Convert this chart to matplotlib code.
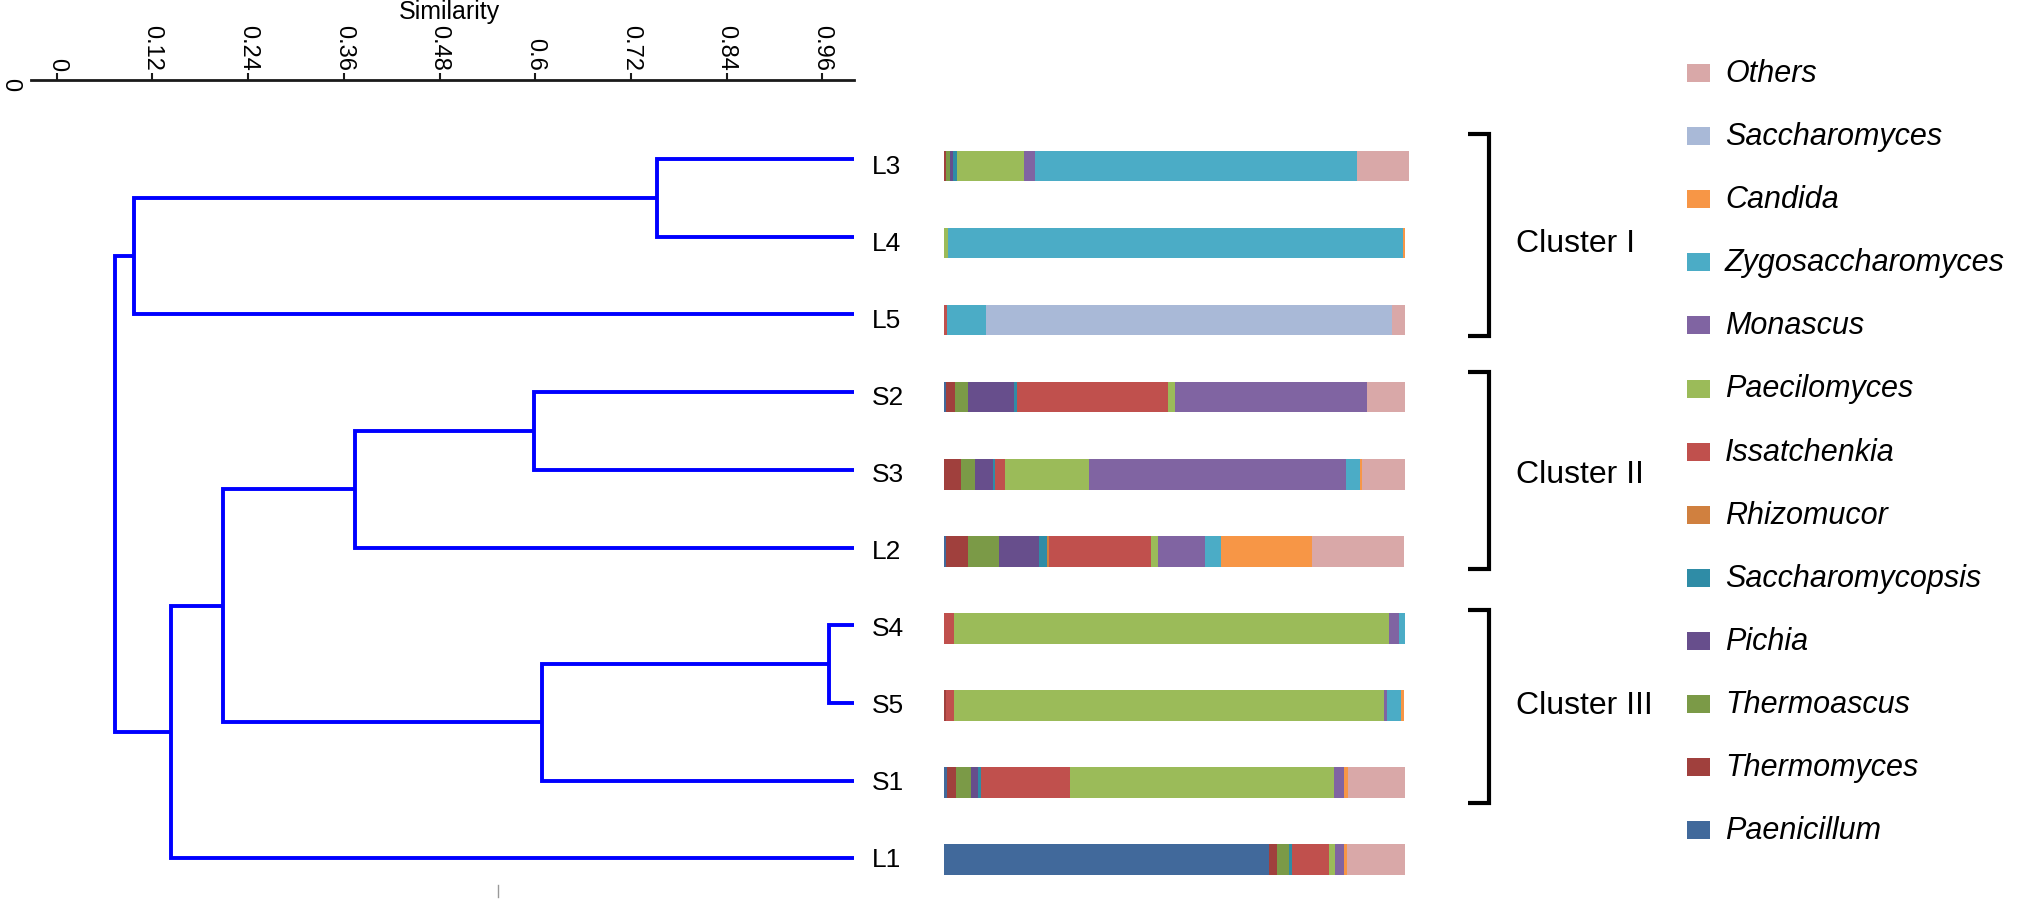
import matplotlib
matplotlib.use('Agg')
import matplotlib.pyplot as plt
from matplotlib.patches import Rectangle
from matplotlib.lines import Line2D
import numpy as np

plt.rcParams['font.family'] = ['Liberation Sans', 'DejaVu Sans']

# ---------------- data ----------------
samples = ['L3', 'L4', 'L5', 'S2', 'S3', 'L2', 'S4', 'S5', 'S1', 'L1']

genera = ['Paenicillum', 'Thermomyces', 'Thermoascus', 'Pichia', 'Saccharomycopsis',
          'Rhizomucor', 'Issatchenkia', 'Paecilomyces', 'Monascus',
          'Zygosaccharomyces', 'Candida', 'Saccharomyces', 'Others']

genus_colors = ['#41699B', '#A0403D', '#7B9A47', '#674E8C', '#2F8CA6',
                '#D0803F', '#C0504D', '#9BBB59', '#8064A2',
                '#4BACC6', '#F79646', '#A9B9D7', '#D9A8A8']

# relative abundance (%) per sample, order = samples
Paenicillum       = [0.0, 0.0, 0.0, 0.35, 0.0, 0.5, 0.0, 0.0, 0.65, 70.5]
Thermomyces       = [0.45, 0.0, 0.0, 2.0, 3.6, 4.6, 0.0, 0.35, 2.0, 1.8]
Thermoascus       = [0.8, 0.0, 0.0, 2.75, 3.2, 6.9, 0.0, 0.0, 3.1, 2.6]
Pichia            = [0.7, 0.0, 0.0, 10.0, 3.8, 8.5, 0.0, 0.0, 1.6, 0.0]
Saccharomycopsis  = [0.95, 0.0, 0.0, 0.7, 0.4, 1.8, 0.0, 0.0, 0.7, 0.65]
Rhizomucor        = [0.0, 0.0, 0.0, 0.0, 0.0, 0.5, 0.0, 0.0, 0.0, 0.0]
Issatchenkia      = [0.0, 0.0, 0.65, 32.8, 2.2, 22.0, 2.2, 1.9, 19.2, 8.0]
Paecilomyces      = [14.4, 0.85, 0.0, 1.6, 18.2, 1.7, 94.4, 93.1, 57.4, 1.2]
Monascus          = [2.5, 0.0, 0.0, 41.6, 55.9, 10.1, 2.2, 0.7, 2.1, 2.0]
Zygosaccharomyces = [69.7, 98.8, 8.5, 0.0, 3.0, 3.5, 1.2, 3.1, 0.0, 0.0]
Candida           = [0.0, 0.25, 0.0, 0.0, 0.4, 19.7, 0.0, 0.7, 0.9, 0.7]
Saccharomyces     = [0.0, 0.0, 88.1, 0.0, 0.0, 0.0, 0.0, 0.0, 0.0, 0.0]
Others            = [11.4, 0.0, 2.75, 8.2, 9.3, 20.0, 0.0, 0.0, 12.3, 12.5]

abundance = [Paenicillum, Thermomyces, Thermoascus, Pichia, Saccharomycopsis,
             Rhizomucor, Issatchenkia, Paecilomyces, Monascus,
             Zygosaccharomyces, Candida, Saccharomyces, Others]

# dendrogram: leaves 0..9 (order of samples); new nodes numbered from 10
link_a   = [0, 10, 3, 12, 6, 14, 13, 16, 11]
link_b   = [1, 2, 4, 5, 7, 8, 15, 9, 17]
link_sim = [0.753, 0.097, 0.598, 0.374, 0.969, 0.609, 0.208, 0.143, 0.0725]

sim_ticks = [0, 0.12, 0.24, 0.36, 0.48, 0.6, 0.72, 0.84, 0.96]
sim_tick_labels = ['0', '0.12', '0.24', '0.36', '0.48', '0.6', '0.72', '0.84', '0.96']

clusters = ['Cluster I', 'Cluster II', 'Cluster III']
cluster_spans = [(-0.415, 2.207), (2.674, 5.232), (5.77, 8.27)]
cluster_label_rows = [1, 4, 7]

# ---------------- figure ----------------
W, H = 2040, 903
fig = plt.figure(figsize=(W / 100, H / 100), dpi=100)

# dendrogram axes (x = similarity, y = leaf row)
d_row0, d_step = 160.0, 77.7
axis_y = 81.0
d_top = axis_y
d_bot = d_row0 + d_step * 9.5
x_left, x_right = 31.2, 854.2
ax_d = fig.add_axes([x_left / W, 1 - d_bot / H, (x_right - x_left) / W, (d_bot - d_top) / H])
ax_d.set_xlim(-0.032, 1.0)
ax_d.set_ylim(9.5, -(d_row0 - axis_y) / d_step)

blue = '#0000FF'
pos = {i: float(i) for i in range(len(samples))}
hgt = {i: 1.0 for i in range(len(samples))}
node = len(samples)
for a, b, s in zip(link_a, link_b, link_sim):
    ax_d.plot([hgt[a], s, s, hgt[b]], [pos[a], pos[a], pos[b], pos[b]],
              color=blue, lw=2.8, solid_capstyle='butt', solid_joinstyle='miter',
              clip_on=False)
    pos[node] = (pos[a] + pos[b]) / 2
    hgt[node] = s
    node += 1

for sp in ['left', 'right', 'bottom']:
    ax_d.spines[sp].set_visible(False)
ax_d.spines['top'].set_linewidth(2.0)
ax_d.spines['top'].set_color('#1a1a1a')
ax_d.xaxis.tick_top()
ax_d.set_xticks(sim_ticks)
ax_d.set_xticklabels(sim_tick_labels, rotation=-90, fontsize=17)
ax_d.tick_params(axis='x', direction='out', length=5, width=1.5, pad=2, color='#1a1a1a')
ax_d.set_yticks([])
ax_d.patch.set_alpha(0)

# bar axes (x = %, y = row)
b_row0, b_step = 167.0, 77.03
b_top = b_row0 - 0.5 * b_step
b_bot = b_row0 + 9.5 * b_step
bx0, bw = 944.0, 461.0
ax_b = fig.add_axes([bx0 / W, 1 - b_bot / H, bw / W, (b_bot - b_top) / H])
ax_b.set_xlim(0, 100)
ax_b.set_ylim(9.5, -0.5)
ax_b.axis('off')

ypos = np.arange(len(samples))
left = np.zeros(len(samples))
for g, c, vals in zip(genera, genus_colors, abundance):
    v = np.array(vals)
    ax_b.barh(ypos, v, left=left, height=0.4, color=c, edgecolor='none', clip_on=False)
    left += v

for i, s in enumerate(samples):
    ax_b.text(-15.6, i, s, ha='left', va='center', fontsize=19, color='black')

# brackets and cluster labels
bx_a, bx_b = 113.7, 118.2
for (t, btm), lab, r in zip(cluster_spans, clusters, cluster_label_rows):
    ax_b.add_line(Line2D([bx_a, bx_b, bx_b, bx_a], [t, t, btm, btm], color='black',
                         lw=3.0, solid_joinstyle='miter', solid_capstyle='butt',
                         clip_on=False))
    ax_b.text(124.1, r, lab, ha='left', va='center', fontsize=23, color='black')

# overlay axes in pixel units for legend & annotations
ax_o = fig.add_axes([0, 0, 1, 1])
ax_o.set_xlim(0, W)
ax_o.set_ylim(H, 0)
ax_o.axis('off')
ax_o.patch.set_alpha(0)

leg_order = list(range(len(genera)))[::-1]
leg_y0, leg_step = 74.0, 63.1
for k, gi in enumerate(leg_order):
    y = leg_y0 + k * leg_step
    ax_o.add_patch(Rectangle((1687, y - 9), 23, 18, facecolor=genus_colors[gi],
                             edgecolor='none'))
    ax_o.text(1725, y, genera[gi], ha='left', va='center', fontsize=22,
              style='italic', color='black')

ax_o.text(449, 12, 'Similarity', ha='center', va='center', fontsize=18, color='black')
ax_o.text(10.5, 84.6, '0', ha='center', va='center', rotation=-90, fontsize=17, color='black')
ax_o.plot([498, 498], [886, 898], color='#999999', lw=1)

fig.savefig('out.png', dpi=100, facecolor='white')
